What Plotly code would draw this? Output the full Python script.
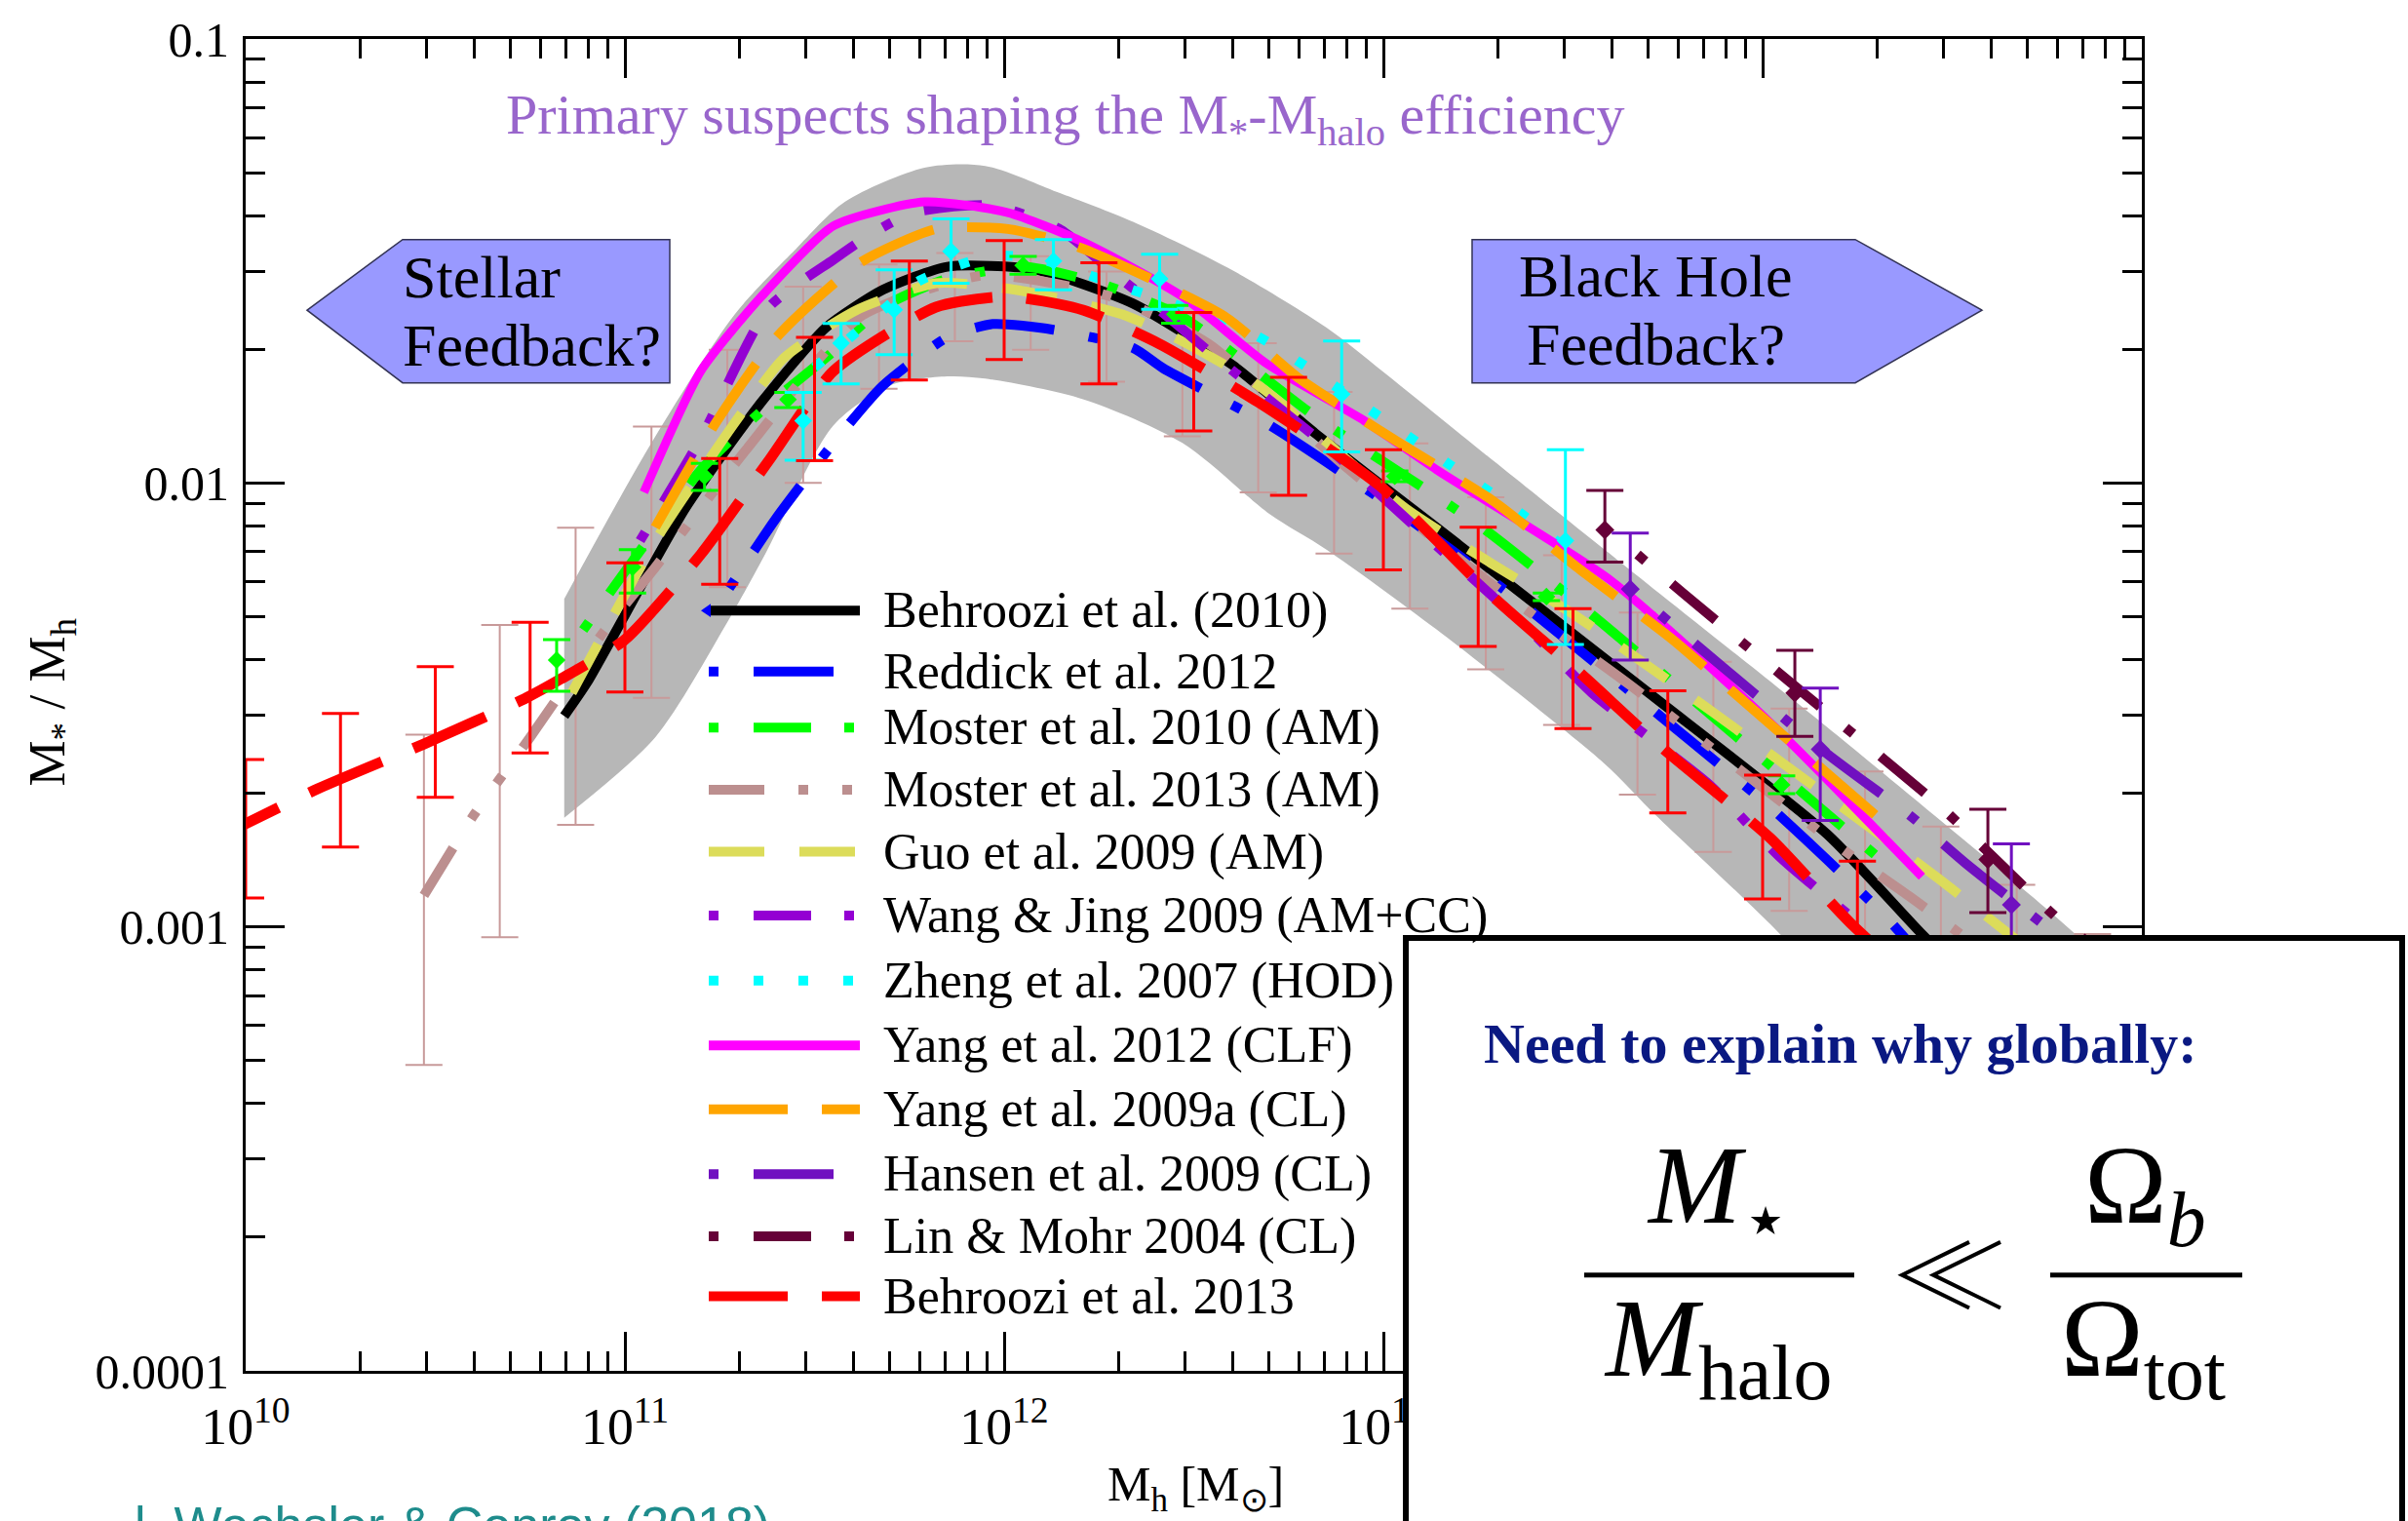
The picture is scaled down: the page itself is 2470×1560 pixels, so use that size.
import numpy as np
import plotly.graph_objects as go

# ---------------------------------------------------------------------------
# Stellar-to-halo mass ratio relations: log10(M_h / M_sun) vs log10(M_* / M_h)
# ---------------------------------------------------------------------------
behroozi10_logm = [10.84, 10.9, 11.16, 11.36, 11.53, 11.68, 11.85, 12.08, 12.34, 12.6, 12.82, 13.2, 13.7, 14.17, 14.42, 14.7]
behroozi10_logr = [-2.525, -2.45, -2.056, -1.818, -1.65, -1.565, -1.513, -1.519, -1.596, -1.733, -1.888, -2.14, -2.473, -2.791, -3.016, -3.26]

reddick12_logm = [11.275, 11.4, 11.55, 11.68, 11.85, 11.97, 12.13, 12.34, 12.42, 12.7, 13.03, 13.33, 13.73, 14.02, 14.32, 14.5]
reddick12_logr = [-2.237, -2.078, -1.91, -1.781, -1.672, -1.642, -1.655, -1.696, -1.742, -1.87, -2.058, -2.248, -2.525, -2.73, -2.973, -3.15]

moster10_logm = [10.89, 11.0, 11.2, 11.37, 11.54, 11.68, 11.84, 12.05, 12.25, 12.47, 12.82, 13.26, 13.58, 14.02, 14.3]
moster10_logr = [-2.331, -2.2, -1.971, -1.83, -1.711, -1.604, -1.543, -1.513, -1.55, -1.626, -1.85, -2.10, -2.318, -2.636, -2.84]

moster13_logm = [10.47, 10.6, 10.75, 10.94, 11.08, 11.32, 11.62, 11.95, 12.28, 12.54, 12.89, 13.29, 13.65, 14.23, 14.39, 14.7]
moster13_logr = [-2.929, -2.75, -2.573, -2.34, -2.19, -1.925, -1.626, -1.532, -1.58, -1.687, -1.956, -2.231, -2.455, -2.837, -2.933, -3.13]

guo09_logm = [10.86, 10.97, 11.09, 11.29, 11.42, 11.61, 11.82, 12.03, 12.31, 12.47, 12.67, 13.06, 13.51, 13.87, 14.46, 14.7]
guo09_logr = [-2.473, -2.298, -2.117, -1.864, -1.718, -1.611, -1.55, -1.565, -1.62, -1.681, -1.78, -2.058, -2.301, -2.517, -2.889, -3.05]

wangjing09_logm = [11.04, 11.2, 11.38, 11.55, 11.65, 11.76, 11.97, 12.15, 12.29, 12.39, 12.56, 12.84, 13.06, 13.39, 13.55, 13.86, 14.05, 14.28]
wangjing09_logr = [-2.13, -1.9, -1.604, -1.497, -1.439, -1.391, -1.375, -1.43, -1.528, -1.596, -1.718, -1.91, -2.08, -2.335, -2.473, -2.68, -2.846, -3.01]

zheng07_logm = [11.5, 11.68, 11.78, 11.97, 12.1, 12.21, 12.66, 12.96, 13.17, 13.36, 13.5]
zheng07_logr = [-1.74, -1.611, -1.543, -1.488, -1.497, -1.528, -1.666, -1.833, -1.956, -2.067, -2.16]

yang12_logm = [11.05, 11.2, 11.36, 11.55, 11.79, 12.01, 12.21, 12.47, 12.69, 12.95, 13.14, 13.6, 14.02, 14.42]
yang12_logr = [-2.021, -1.748, -1.58, -1.421, -1.367, -1.391, -1.458, -1.58, -1.73, -1.86, -1.97, -2.22, -2.54, -2.887]

yang09_logm = [11.08, 11.24, 11.4, 11.62, 11.82, 12.01, 12.2, 12.58, 12.78, 13.03, 13.29, 13.52, 13.76, 13.96, 14.3]
yang09_logr = [-2.10, -1.864, -1.672, -1.504, -1.428, -1.428, -1.47, -1.624, -1.766, -1.903, -2.041, -2.196, -2.351, -2.499, -2.75]

hansen09_logm = [13.73, 14.17, 14.39, 14.54, 14.9]
hansen09_logr = [-2.296, -2.61, -2.75, -2.86, -3.1]

linmohr04_logm = [13.67, 13.79, 14.07, 14.47, 14.79, 15.0]
linmohr04_logr = [-2.161, -2.248, -2.447, -2.73, -2.99, -3.12]

behroozi13_logm = [9.9, 10.19, 10.47, 10.74, 10.83, 11.0, 11.2, 11.38, 11.55, 11.82, 12.01, 12.21, 12.41, 12.67, 12.99, 13.29, 13.52, 13.73, 14.02, 14.23, 14.5]
behroozi13_logr = [-2.81, -2.689, -2.588, -2.484, -2.442, -2.353, -2.161, -1.949, -1.748, -1.604, -1.58, -1.611, -1.687, -1.818, -2.006, -2.257, -2.429, -2.593, -2.8, -2.99, -3.2]

# Behroozi et al. (2010) uncertainty envelope
band_up_logm = [10.84, 11.07, 11.29, 11.45, 11.58, 11.79, 11.95, 12.14, 12.34, 12.60, 12.85, 13.0, 13.29, 13.73, 14.17, 14.61, 14.75, 15.0]
band_up_logr = [-2.261, -1.91, -1.62, -1.474, -1.367, -1.29, -1.286, -1.345, -1.412, -1.52, -1.65, -1.75, -1.95, -2.25, -2.55, -2.86, -2.96, -3.15]
band_lo_logm = [10.84, 11.08, 11.27, 11.37, 11.55, 11.70, 11.85, 11.95, 12.21, 12.47, 12.70, 12.85, 13.14, 13.58, 13.72, 14.05, 14.5, 15.0]
band_lo_logr = [-2.754, -2.573, -2.314, -2.16, -1.87, -1.78, -1.76, -1.765, -1.812, -1.91, -2.07, -2.15, -2.33, -2.63, -2.75, -3.02, -3.45, -3.9]

# Error bars: log10 halo mass, upper and lower log10 ratio, (optional) point value
b13_err_logm = [10.0, 10.25, 10.5, 10.75, 11.0, 11.25, 11.5, 11.75, 12.0, 12.25, 12.5, 12.75, 13.0, 13.25, 13.5, 13.75, 14.0, 14.25]
b13_err_hi = [-2.623, -2.519, -2.414, -2.314, -2.18, -1.945, -1.672, -1.5, -1.454, -1.504, -1.616, -1.762, -1.925, -2.10, -2.283, -2.468, -2.658, -2.852]
b13_err_lo = [-2.935, -2.82, -2.708, -2.608, -2.471, -2.228, -1.95, -1.768, -1.722, -1.777, -1.883, -2.028, -2.196, -2.368, -2.553, -2.743, -2.937, -3.13]

m13_err_logm = [10.47, 10.67, 10.87, 11.07, 11.27, 11.47, 11.67, 11.87, 12.07, 12.27, 12.47, 12.67, 12.87, 13.07, 13.27, 13.47, 13.67, 13.87, 14.07, 14.27, 14.47, 14.67, 14.87]
m13_err_hi = [-2.567, -2.32, -2.101, -1.873, -1.70, -1.558, -1.508, -1.482, -1.489, -1.524, -1.62, -1.685, -1.795, -1.911, -2.032, -2.163, -2.292, -2.403, -2.508, -2.65, -2.774, -2.905, -3.016]
m13_err_lo = [-3.311, -3.023, -2.770, -2.484, -2.235, -2.0, -1.788, -1.681, -1.70, -1.772, -1.895, -2.021, -2.159, -2.283, -2.42, -2.545, -2.702, -2.831, -2.964, -3.1, -3.25, -3.4, -3.5]

zheng_err_logm = [11.47, 11.57, 11.71, 11.86, 12.13, 12.41, 12.89, 13.48]
zheng_err_hi = [-1.796, -1.641, -1.52, -1.405, -1.452, -1.485, -1.68, -1.925]
zheng_err_lo = [-1.949, -1.777, -1.711, -1.55, -1.565, -1.609, -1.93, -2.364]
zheng_err_pt = [-1.86, -1.685, -1.61, -1.478, -1.50, -1.54, -1.80, -2.13]

m10_err_logm = [10.82, 11.02, 11.21, 11.43, 12.05, 12.45, 13.03, 13.43, 14.05]
m10_err_hi = [-2.353, -2.15, -1.956, -1.796, -1.49, -1.60, -1.973, -2.248, -2.66]
m10_err_lo = [-2.469, -2.248, -2.017, -1.83, -1.53, -1.64, -1.997, -2.265, -2.70]
m10_err_pt = [-2.399, -2.19, -1.985, -1.812, -1.51, -1.62, -1.985, -2.256, -2.68]

lm_err_logm = [13.584, 14.085, 14.594]
lm_err_hi = [-2.017, -2.377, -2.735]
lm_err_lo = [-2.178, -2.571, -2.968]
lm_err_pt = [-2.106, -2.473, -2.848]

hansen_err_logm = [13.651, 14.152, 14.656]
hansen_err_hi = [-2.113, -2.462, -2.813]
hansen_err_lo = [-2.399, -2.76, -3.1]
hansen_err_pt = [-2.239, -2.6, -2.95]

# ---------------------------------------------------------------------------
SERIF = "Liberation Serif, Times New Roman, serif"
W, H = 2470, 1560
L, R, T, B = 252, 273, 31, 154
PW, PH = W - L - R, H - T - B


def px(x):
    """pixel column -> paper x"""
    return (x - L) / PW


def py(y):
    """pixel row -> paper y"""
    return (T + PH - y) / PH


SOLID = "solid"
DASH_LONG = "81px,35px"
DASH_MED = "57px,36px"
DOT_DASH_LONG = "10px,36px,82px,36px"
DOT_DASH = "10px,36px,59px,34px"
DASH_DOT_DOT = "57px,35px,10px,35px,10px,35px"
DOTS = "10px,36px"

series = [
    ("Behroozi et al. (2010)", behroozi10_logm, behroozi10_logr, "#000000", SOLID, 10),
    ("Reddick et al. 2012", reddick12_logm, reddick12_logr, "#0000FF", DOT_DASH_LONG, 10),
    ("Moster et al. 2010 (AM)", moster10_logm, moster10_logr, "#00FF00", DOT_DASH, 10),
    ("Moster et al. 2013 (AM)", moster13_logm, moster13_logr, "#BC8F8F", DASH_DOT_DOT, 10),
    ("Guo et al. 2009 (AM)", guo09_logm, guo09_logr, "#DCDC5A", DASH_MED, 10),
    ("Wang & Jing 2009 (AM+CC)", wangjing09_logm, wangjing09_logr, "#9400D3", DOT_DASH, 10),
    ("Zheng et al. 2007 (HOD)", zheng07_logm, zheng07_logr, "#00FFFF", DOTS, 10),
    ("Yang et al. 2012 (CLF)", yang12_logm, yang12_logr, "#FF00FF", SOLID, 9),
    ("Yang et al. 2009a (CL)", yang09_logm, yang09_logr, "#FFA500", DASH_LONG, 10),
    ("Hansen et al. 2009 (CL)", hansen09_logm, hansen09_logr, "#7010C0", DOT_DASH_LONG, 10),
    ("Lin & Mohr 2004 (CL)", linmohr04_logm, linmohr04_logr, "#660038", DOT_DASH, 10),
    ("Behroozi et al. 2013", behroozi13_logm, behroozi13_logr, "#FF0000", DASH_LONG, 11),
]

fig = go.Figure()

# uncertainty envelope
fig.add_trace(go.Scatter(
    x=10 ** np.array(band_lo_logm), y=10 ** np.array(band_lo_logr), mode="lines",
    line=dict(width=0, shape="spline", smoothing=0.8), hoverinfo="skip"))
fig.add_trace(go.Scatter(
    x=10 ** np.array(band_up_logm), y=10 ** np.array(band_up_logr), mode="lines",
    line=dict(width=0, shape="spline", smoothing=0.8), fill="tonexty",
    fillcolor="#B7B7B7", hoverinfo="skip"))


def err_trace(logm, hi, lo, color, thick, half, pt=None, msize=0):
    hi = np.array(hi)
    lo = np.array(lo)
    c = np.array(pt) if pt is not None else (hi + lo) / 2
    yc = 10 ** c
    return go.Scatter(
        x=10 ** np.array(logm), y=yc, mode="markers",
        marker=dict(symbol="diamond", size=msize if msize else 1,
                    color=color if msize else "rgba(0,0,0,0)", line=dict(width=0)),
        error_y=dict(type="data", symmetric=False, array=10 ** hi - yc,
                     arrayminus=yc - 10 ** lo, color=color, thickness=thick, width=half),
        hoverinfo="skip")


# Moster 2013 error bars sit beneath the relations
fig.add_trace(err_trace(m13_err_logm, m13_err_hi, m13_err_lo, "#C89A9A", 2, 19))

for name, lm, lr, color, dash, width in series:
    fig.add_trace(go.Scatter(
        x=10 ** np.array(lm), y=10 ** np.array(lr), mode="lines", name=name,
        line=dict(color=color, dash=dash, width=width, shape="spline", smoothing=0.6),
        hoverinfo="skip"))

fig.add_trace(err_trace(m10_err_logm, m10_err_hi, m10_err_lo, "#00FF00", 3, 14, m10_err_pt, 14))
fig.add_trace(err_trace(zheng_err_logm, zheng_err_hi, zheng_err_lo, "#00FFFF", 3, 19, zheng_err_pt, 14))
fig.add_trace(err_trace(lm_err_logm, lm_err_hi, lm_err_lo, "#660038", 3, 19, lm_err_pt, 15))
fig.add_trace(err_trace(hansen_err_logm, hansen_err_hi, hansen_err_lo, "#7010C0", 3, 19, hansen_err_pt, 15))
fig.add_trace(err_trace(b13_err_logm, b13_err_hi, b13_err_lo, "#FF0000", 3, 19))

# ---------------------------------------------------------------------------
shapes = []
annotations = []


def text(x, y, s, size, color="black", xanchor="left", yanchor="middle", family=SERIF, angle=0):
    annotations.append(dict(
        x=px(x), y=py(y), xref="paper", yref="paper", text=s, showarrow=False,
        xanchor=xanchor, yanchor=yanchor, textangle=angle,
        font=dict(family=family, size=size, color=color)))


def polyline(pts, color, width, closed=False, fill=None, layer="above"):
    path = "M " + " L ".join(f"{px(a)} {py(b)}" for a, b in pts) + (" Z" if closed else "")
    shapes.append(dict(type="path", xref="paper", yref="paper", path=path,
                       fillcolor=fill, line=dict(color=color, width=width), layer=layer))


# in-plot legend
legend_y = [621, 684, 742, 806, 870, 936, 1003, 1070, 1136, 1203, 1267, 1329]
for (name, lm, lr, color, dash, width), yy in zip(series, legend_y):
    shapes.append(dict(type="line", xref="paper", yref="paper",
                       x0=px(727), x1=px(882), y0=py(yy), y1=py(yy),
                       line=dict(color=color, width=10, dash=dash)))
    text(904, yy, name, 52)
polyline([(719, 621), (729, 614), (729, 628)], "#0000FF", 0, closed=True, fill="#0000FF")

# feedback arrows
ARROW_FILL = "#9999FF"
polyline([(315, 311), (413, 238), (687, 238), (687, 386), (413, 386)], "#333355", 1.5, True, ARROW_FILL)
polyline([(1510, 238), (1903, 238), (2033, 311), (1903, 386), (1510, 386)], "#333355", 1.5, True, ARROW_FILL)
text(411, 277, "Stellar", 62)
text(411, 347, "Feedback?", 62)
text(1698, 276, "Black Hole", 62, xanchor="center")
text(1698, 346, "Feedback?", 62, xanchor="center")

# headline
text(517, 113, "Primary suspects shaping the M<sub>*</sub>-M<sub>halo</sub> efficiency", 58, color="#9966CC")

# axis titles
text(52, 716, "M<sub>*</sub> / M<sub>h</sub>", 53, xanchor="center", angle=-90)
text(1226, 1527, "M<sub>h</sub> [M<sub>\u2299</sub>]", 50, xanchor="center")

# source credit
text(136, 1565, "l. Wechsler &amp; Conroy (2018)", 52, color="#1E8C8C",
     family="Liberation Sans, Arial, sans-serif")

# equation box
shapes.append(dict(type="rect", xref="paper", yref="paper",
                   x0=px(1442), x1=px(2464), y0=py(959), y1=py(1620),
                   fillcolor="white", line=dict(color="black", width=6), layer="above"))
text(1888, 1068, "<b>Need to explain why globally:</b>", 58, color="#0A1982", xanchor="center")
text(1762, 1222, "<i>M</i><sub>\u22c6</sub>", 114, xanchor="center")
text(1762, 1380, "<i>M</i><sub>halo</sub>", 114, xanchor="center")
text(2200, 1222, "\u03a9<sub><i>b</i></sub>", 114, xanchor="center")
text(2198, 1380, "\u03a9<sub>tot</sub>", 114, xanchor="center")
for x0, x1 in ((1625, 1902), (2103, 2300)):
    shapes.append(dict(type="line", xref="paper", yref="paper", x0=px(x0), x1=px(x1),
                       y0=py(1307), y1=py(1307), line=dict(color="black", width=5), layer="above"))
# "much less than" sign as two nested chevrons
for dx in (0, 32):
    polyline([(2020 + dx, 1273), (1951 + dx, 1307), (2020 + dx, 1341)], "black", 4)

axis_common = dict(
    type="log", showline=True, linecolor="black", linewidth=3, mirror="allticks",
    ticks="inside", ticklen=40, tickwidth=3, tickcolor="black", dtick=1, tick0=0,
    showgrid=False, zeroline=False,
    minor=dict(ticks="inside", ticklen=20, tickwidth=3, tickcolor="black", dtick="D1", showgrid=False),
)

fig.update_layout(
    width=W, height=H, autosize=False,
    margin=dict(l=L, r=R, t=T, b=B, pad=0),
    paper_bgcolor="white", plot_bgcolor="white", showlegend=False,
    xaxis=dict(axis_common, range=[10, 15], exponentformat="power",
               tickfont=dict(family=SERIF, size=43, color="black"), ticklabelstandoff=10),
    yaxis=dict(axis_common, range=[-4, -1], exponentformat="none",
               tickfont=dict(family=SERIF, size=50, color="black"), ticklabelstandoff=4),
    shapes=shapes, annotations=annotations,
)

fig.write_html("out.html")
